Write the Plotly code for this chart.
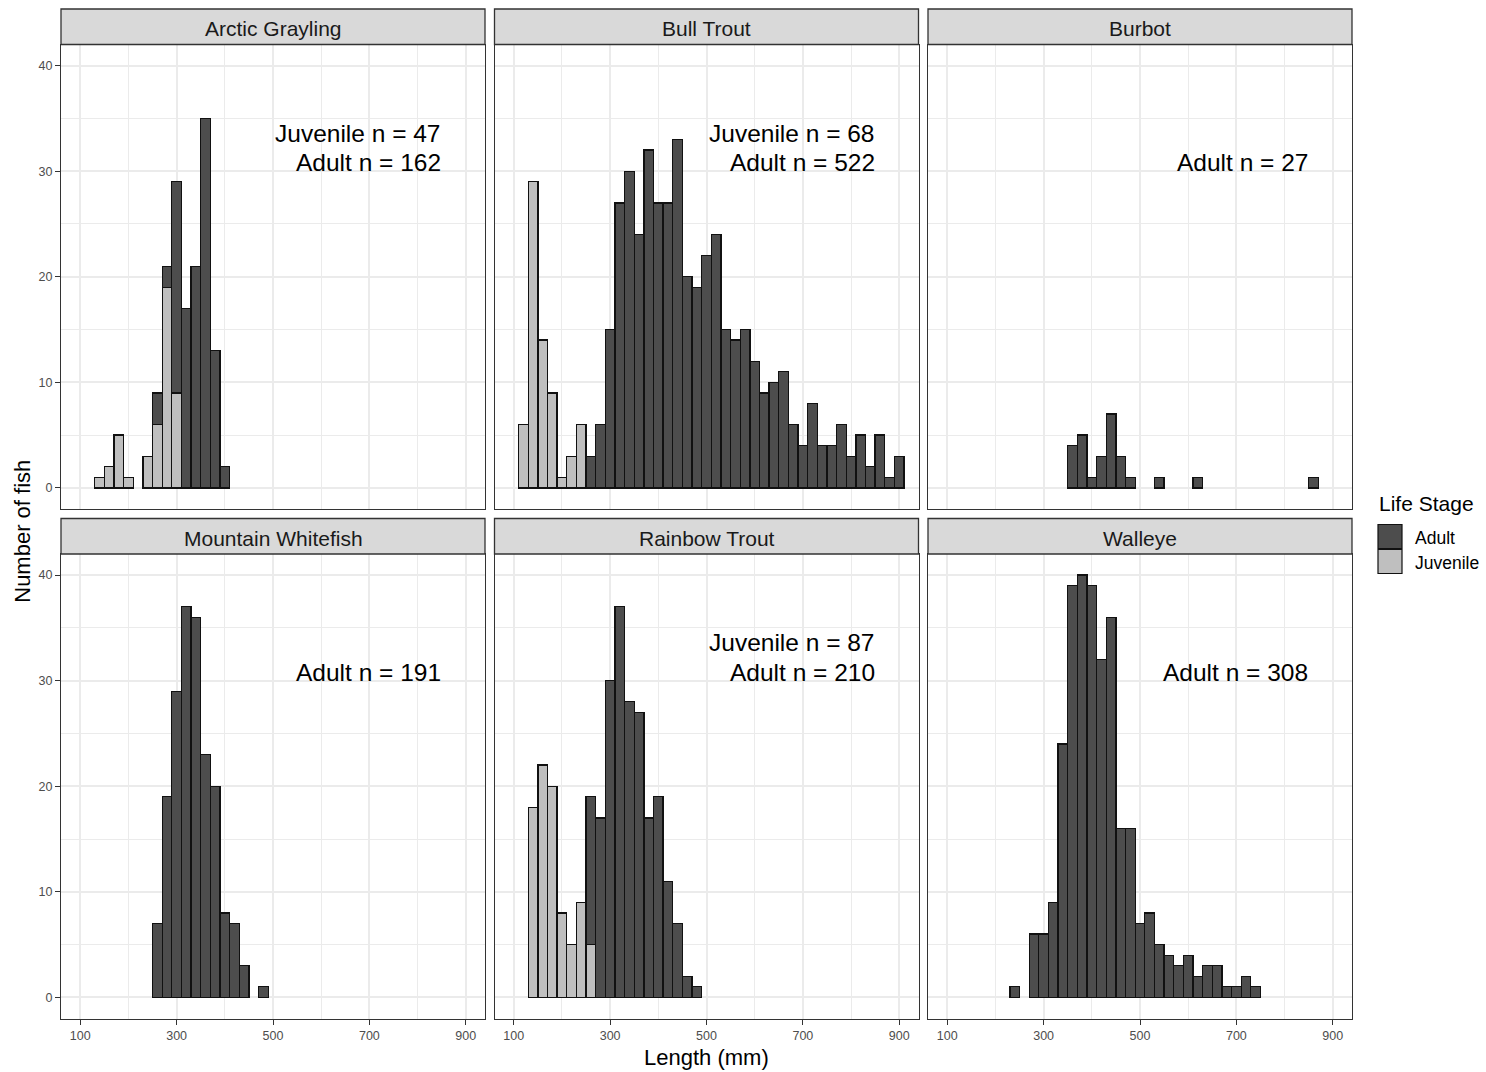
import plotly.graph_objects as go

# ---------------------------------------------------------------
# Length-frequency data (20 mm bins, values are bin centres)
# ---------------------------------------------------------------
species = ["Arctic Grayling", "Bull Trout", "Burbot",
           "Mountain Whitefish", "Rainbow Trout", "Walleye"]

grayling_bins = [140, 160, 180, 200, 220, 240, 260, 280, 300, 320, 340, 360, 380, 400]
grayling_juvenile = [1, 2, 5, 1, 0, 3, 6, 19, 9, 0, 0, 0, 0, 0]
grayling_adult = [0, 0, 0, 0, 0, 0, 3, 2, 20, 17, 21, 35, 13, 2]

bull_bins = [120, 140, 160, 180, 200, 220, 240, 260, 280, 300, 320, 340, 360, 380,
             400, 420, 440, 460, 480, 500, 520, 540, 560, 580, 600, 620, 640, 660,
             680, 700, 720, 740, 760, 780, 800, 820, 840, 860, 880, 900]
bull_juvenile = [6, 29, 14, 9, 1, 3, 6, 0, 0, 0, 0, 0, 0, 0,
                 0, 0, 0, 0, 0, 0, 0, 0, 0, 0, 0, 0, 0, 0,
                 0, 0, 0, 0, 0, 0, 0, 0, 0, 0, 0, 0]
bull_adult = [0, 0, 0, 0, 0, 0, 0, 3, 6, 15, 27, 30, 24, 32,
              27, 27, 33, 20, 19, 22, 24, 15, 14, 15, 12, 9, 10, 11,
              6, 4, 8, 4, 4, 6, 3, 5, 2, 5, 1, 3]

burbot_bins = [360, 380, 400, 420, 440, 460, 480, 540, 620, 860]
burbot_juvenile = [0, 0, 0, 0, 0, 0, 0, 0, 0, 0]
burbot_adult = [4, 5, 1, 3, 7, 3, 1, 1, 1, 1]

whitefish_bins = [260, 280, 300, 320, 340, 360, 380, 400, 420, 440, 480]
whitefish_juvenile = [0, 0, 0, 0, 0, 0, 0, 0, 0, 0, 0]
whitefish_adult = [7, 19, 29, 37, 36, 23, 20, 8, 7, 3, 1]

rainbow_bins = [140, 160, 180, 200, 220, 240, 260, 280, 300, 320, 340, 360,
                380, 400, 420, 440, 460, 480]
rainbow_juvenile = [18, 22, 20, 8, 5, 9, 5, 0, 0, 0, 0, 0, 0, 0, 0, 0, 0, 0]
rainbow_adult = [0, 0, 0, 0, 0, 0, 14, 17, 30, 37, 28, 27, 17, 19, 11, 7, 2, 1]

walleye_bins = [240, 280, 300, 320, 340, 360, 380, 400, 420, 440, 460, 480, 500,
                520, 540, 560, 580, 600, 620, 640, 660, 680, 700, 720, 740]
walleye_juvenile = [0] * 25
walleye_adult = [1, 6, 6, 9, 24, 39, 40, 39, 32, 36, 16, 16, 7,
                 8, 5, 4, 3, 4, 2, 3, 3, 1, 1, 2, 1]

# sample sizes printed in each panel (None = no juveniles sampled)
n_juvenile = [47, 68, None, None, 87, None]
n_adult = [162, 522, 27, 191, 210, 308]

x_ticks = [100, 300, 500, 700, 900]
x_minor = [200, 400, 600, 800]
y_ticks = [0, 10, 20, 30, 40]
y_minor = [5, 15, 25, 35]

bins_all = [grayling_bins, bull_bins, burbot_bins, whitefish_bins, rainbow_bins, walleye_bins]
juv_all = [grayling_juvenile, bull_juvenile, burbot_juvenile,
           whitefish_juvenile, rainbow_juvenile, walleye_juvenile]
adult_all = [grayling_adult, bull_adult, burbot_adult,
             whitefish_adult, rainbow_adult, walleye_adult]

# ---------------------------------------------------------------
# Page geometry (pixels)
# ---------------------------------------------------------------
W, H = 1486, 1072
COL_LEFT = [61, 494.5, 928]
PANEL_W = 424
ROW_TOP = [44.5, 554]
PANEL_H = 464.5
STRIP_H = 35.5

FONT = "Liberation Sans, Arial, Helvetica, sans-serif"
ADULT_COL = "#4D4D4D"
JUV_COL = "#BFBFBF"
BORDER = "#333333"
GRID = "#EBEBEB"


def px(xp):
    return xp / W


def py(yp):
    return 1 - yp / H


fig = go.Figure()
layout_axes = {}
annotations = []
shapes = []

for i, name in enumerate(species):
    row, col = divmod(i, 3)
    k = "" if i == 0 else str(i + 1)
    xa, ya = "x" + k, "y" + k

    bins = bins_all[i]
    for stage, counts, colour in (("Juvenile", juv_all[i], JUV_COL),
                                  ("Adult", adult_all[i], ADULT_COL)):
        xs = [b for b, c in zip(bins, counts) if c > 0]
        ys = [c for c in counts if c > 0]
        if not xs:
            continue
        fig.add_trace(go.Bar(
            x=xs, y=ys, width=20, name=stage, showlegend=False,
            marker=dict(color=colour, line=dict(color="#111111", width=1.3)),
            xaxis=xa, yaxis=ya, hoverinfo="x+y+name",
        ))

    left = COL_LEFT[col]
    top = ROW_TOP[row]
    bottom_row = row == 1
    left_col = col == 0

    layout_axes["xaxis" + k] = dict(
        domain=[px(left), px(left + PANEL_W)], anchor=ya, range=[60, 940],
        tickmode="array", tickvals=x_ticks, showticklabels=bottom_row,
        ticks="outside" if bottom_row else "", ticklen=5, tickwidth=1.1, tickcolor=BORDER,
        tickfont=dict(family=FONT, size=12.5, color="#4D4D4D"),
        showgrid=True, gridcolor=GRID, gridwidth=1.6,
        minor=dict(tickvals=x_minor, showgrid=True, gridcolor=GRID, gridwidth=1.0, ticks=""),
        zeroline=False, showline=True, mirror=True, linecolor=BORDER, linewidth=1.3,
        automargin=False, fixedrange=True,
    )
    layout_axes["yaxis" + k] = dict(
        domain=[py(top + PANEL_H), py(top)], anchor=xa, range=[-2, 42],
        tickmode="array", tickvals=y_ticks, showticklabels=left_col,
        ticks="outside" if left_col else "", ticklen=5, tickwidth=1.1, tickcolor=BORDER,
        tickfont=dict(family=FONT, size=12.5, color="#4D4D4D"),
        showgrid=True, gridcolor=GRID, gridwidth=1.6,
        minor=dict(tickvals=y_minor, showgrid=True, gridcolor=GRID, gridwidth=1.0, ticks=""),
        zeroline=False, showline=True, mirror=True, linecolor=BORDER, linewidth=1.3,
        automargin=False, fixedrange=True,
    )

    # facet strip
    shapes.append(dict(
        type="rect", xref="paper", yref="paper",
        x0=px(left), x1=px(left + PANEL_W), y0=py(top), y1=py(top - STRIP_H),
        fillcolor="#D9D9D9", line=dict(color=BORDER, width=1.3), layer="above",
    ))
    annotations.append(dict(
        text=name, xref="paper", yref="paper",
        x=px(left + PANEL_W / 2), y=py(top - STRIP_H / 2 + 2),
        xanchor="center", yanchor="middle", showarrow=False,
        font=dict(family=FONT, size=21, color="#1A1A1A"),
    ))

    # sample-size labels
    if n_juvenile[i] is not None:
        annotations.append(dict(
            text=f"Juvenile n = {n_juvenile[i]}", xref=xa, yref=ya,
            x=853, y=33.6, xanchor="right", yanchor="middle", showarrow=False,
            font=dict(family=FONT, size=24.5, color="#000000"),
        ))
    annotations.append(dict(
        text=f"Adult n = {n_adult[i]}", xref=xa, yref=ya,
        x=853, y=30.8, xanchor="right", yanchor="middle", showarrow=False,
        font=dict(family=FONT, size=24.5, color="#000000"),
    ))

# axis titles
annotations.append(dict(
    text="Length (mm)", xref="paper", yref="paper", x=px(706.5), y=py(1057),
    xanchor="center", yanchor="middle", showarrow=False,
    font=dict(family=FONT, size=22, color="#000000"),
))
annotations.append(dict(
    text="Number of fish", xref="paper", yref="paper", x=px(23), y=py(531.75),
    xanchor="center", yanchor="middle", showarrow=False, textangle=-90,
    font=dict(family=FONT, size=22, color="#000000"),
))

# legend
annotations.append(dict(
    text="Life Stage", xref="paper", yref="paper", x=px(1377), y=py(503),
    xanchor="left", yanchor="middle", showarrow=False,
    font=dict(family=FONT, size=21, color="#000000"),
))
for j, (label, colour) in enumerate((("Adult", ADULT_COL), ("Juvenile", JUV_COL))):
    y0 = 524.5 + j * 25
    shapes.append(dict(
        type="rect", xref="paper", yref="paper",
        x0=px(1378), x1=px(1402), y0=py(y0 + 24), y1=py(y0),
        fillcolor=colour, line=dict(color="#111111", width=1.2),
    ))
    annotations.append(dict(
        text=label, xref="paper", yref="paper", x=px(1413), y=py(y0 + 13),
        xanchor="left", yanchor="middle", showarrow=False,
        font=dict(family=FONT, size=17.5, color="#000000"),
    ))

fig.update_layout(
    width=W, height=H, autosize=False,
    margin=dict(l=0, r=0, t=0, b=0, pad=0),
    paper_bgcolor="white", plot_bgcolor="white",
    barmode="stack", showlegend=False,
    annotations=annotations, shapes=shapes,
    **layout_axes,
)

fig.write_html("out.html", config={"displayModeBar": False})
